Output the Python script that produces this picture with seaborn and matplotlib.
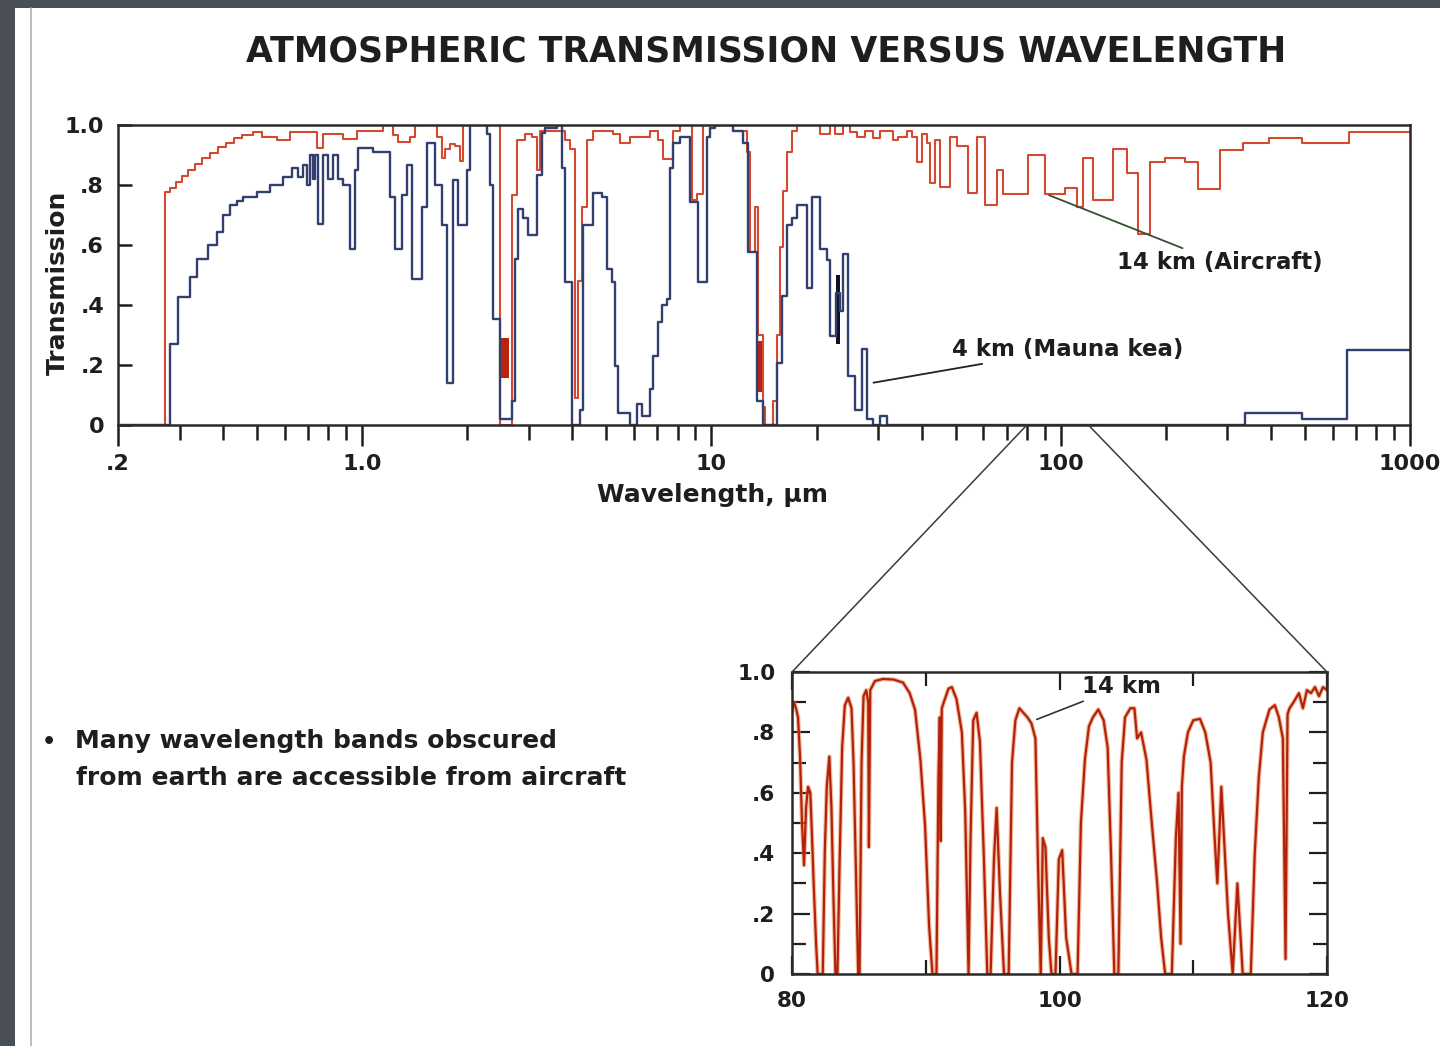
import numpy as np
import pandas as pd
import matplotlib
matplotlib.use("Agg")
import matplotlib.pyplot as plt
import seaborn as sns
from matplotlib.patches import Rectangle, ConnectionPatch
from matplotlib.lines import Line2D
from matplotlib.ticker import FixedLocator, FixedFormatter, NullFormatter

# ------------------------------------------------------------------ data
# 4 km (Mauna Kea): step starts (µm) and transmission of each step
wl_4km_start = [
    0.200, 0.282, 0.298, 0.322, 0.336, 0.363, 0.383, 0.400, 0.419, 0.438,
    0.457, 0.499, 0.545, 0.595, 0.629, 0.657, 0.679, 0.694, 0.709, 0.725,
    0.733, 0.749, 0.774, 0.800, 0.827, 0.855, 0.884, 0.923, 0.954, 0.975,
    1.077, 1.202, 1.242, 1.298, 1.342, 1.387, 1.481, 1.531, 1.617, 1.690,
    1.747, 1.824, 1.886, 1.993, 2.037, 2.274, 2.324, 2.375, 2.482, 2.681,
    2.740, 2.801, 2.894, 2.991, 3.161, 3.267, 3.339, 3.607, 3.728, 3.810,
    3.982, 4.206, 4.290, 4.583, 4.862, 5.025, 5.194, 5.297, 5.403, 5.848,
    6.124, 6.329, 6.672, 6.805, 7.033, 7.222, 7.464, 7.613, 7.765, 8.131,
    8.685, 9.155, 9.714, 9.910, 10.24, 11.53, 12.32, 12.73, 13.51, 14.05,
    15.41, 15.93, 16.46, 17.01, 17.58, 18.78, 19.41, 20.46, 21.42, 21.85,
    22.73, 23.34, 23.81, 24.60, 25.77, 26.98, 27.89, 29.01, 30.39, 31.82,
    337.1, 490.9, 660.3,
]
trans_4km = [
    0.0, 0.27, 0.426, 0.493, 0.554, 0.599, 0.643, 0.70, 0.732, 0.745,
    0.76, 0.777, 0.799, 0.827, 0.855, 0.827, 0.866, 0.80, 0.90, 0.82,
    0.90, 0.671, 0.90, 0.82, 0.90, 0.82, 0.80, 0.588, 0.85, 0.922,
    0.91, 0.76, 0.588, 0.766, 0.866, 0.487, 0.727, 0.939, 0.80, 0.666,
    0.141, 0.816, 0.666, 0.85, 1.0, 0.97, 0.80, 0.353, 0.02, 0.08,
    0.554, 0.721, 0.69, 0.632, 0.833, 0.972, 0.99, 1.0, 0.855, 0.476,
    0.0, 0.05, 0.666, 0.772, 0.76, 0.52, 0.476, 0.197, 0.04, 0.0,
    0.07, 0.03, 0.12, 0.23, 0.342, 0.40, 0.42, 0.855, 0.94, 0.96,
    0.743, 0.476, 0.96, 0.99, 1.0, 0.98, 0.94, 0.576, 0.08, 0.0,
    0.208, 0.43, 0.666, 0.69, 0.732, 0.455, 0.76, 0.588, 0.55, 0.298,
    0.44, 0.38, 0.571, 0.164, 0.05, 0.253, 0.02, 0.0, 0.03, 0.0,
    0.04, 0.02, 0.25,
]

# 14 km (Aircraft)
wl_14km_start = [
    0.200, 0.273, 0.282, 0.293, 0.305, 0.317, 0.332, 0.348, 0.367, 0.387,
    0.408, 0.430, 0.453, 0.487, 0.517, 0.571, 0.622, 0.743, 0.773, 0.882,
    0.967, 1.148, 1.226, 1.267, 1.371, 1.417, 1.638, 1.694, 1.727, 1.785,
    1.845, 1.907, 1.945, 2.482, 2.687, 2.777, 2.927, 3.065, 3.168, 3.231,
    3.810, 3.938, 4.070, 4.151, 4.262, 4.404, 4.583, 5.228, 5.474, 5.848,
    6.672, 7.033, 7.270, 7.765, 8.131, 8.802, 9.097, 9.463, 11.53, 12.65,
    12.90, 13.33, 13.60, 14.05, 14.24, 15.01, 15.41, 15.73, 16.03, 16.46,
    17.01, 17.58, 20.46, 21.85, 22.59, 23.81, 24.94, 26.12, 27.54, 29.01,
    30.39, 33.11, 34.21, 36.32, 37.54, 38.80, 40.09, 41.43, 42.26, 43.68,
    45.13, 48.22, 50.49, 54.28, 57.62, 60.74, 65.73, 68.39, 80.63, 90.22,
    102.9, 111.4, 115.9, 123.8, 141.2, 154.9, 166.5, 180.3, 198.9, 227.0,
    247.3, 285.9, 332.7, 395.0, 490.9, 669.1,
]
trans_14km = [
    0.0, 0.775, 0.79, 0.81, 0.83, 0.85, 0.87, 0.89, 0.905, 0.925,
    0.94, 0.955, 0.968, 0.978, 0.96, 0.95, 0.975, 0.923, 0.97, 0.954,
    0.98, 1.0, 0.967, 0.944, 0.96, 1.0, 0.96, 0.889, 0.92, 0.935,
    0.93, 0.88, 1.0, 0.0, 0.766, 0.95, 0.97, 0.96, 0.85, 0.98,
    0.95, 0.92, 0.09, 0.48, 0.727, 0.95, 0.98, 0.97, 0.94, 0.96,
    0.98, 0.95, 0.888, 0.98, 1.0, 0.75, 0.77, 1.0, 0.98, 0.91,
    0.576, 0.727, 0.30, 0.06, 0.0, 0.08, 0.30, 0.593, 0.78, 0.91,
    0.98, 1.0, 0.97, 1.0, 0.97, 1.0, 0.975, 0.96, 0.98, 0.955,
    0.98, 0.95, 0.96, 0.98, 0.96, 0.877, 0.97, 0.94, 0.805, 0.95,
    0.794, 0.96, 0.93, 0.772, 0.96, 0.732, 0.85, 0.77, 0.90, 0.77,
    0.79, 0.725, 0.89, 0.75, 0.92, 0.84, 0.638, 0.877, 0.89, 0.877,
    0.785, 0.916, 0.94, 0.955, 0.94, 0.977,
]
wl_end = 1000.0

# densely inked (unresolved) bands: wavelength span and transmission span
dense_14km_wl = [(2.48, 2.63), (13.60, 14.00)]
dense_14km_T = [(0.155, 0.29), (0.11, 0.28)]
dense_4km_wl = [(22.73, 23.30)]
dense_4km_T = [(0.27, 0.50)]

# high-resolution 14 km spectrum, 80-120 µm
zoom_wl = [
    80.0, 80.15, 80.3, 80.45, 80.6, 80.75, 80.9, 81.05, 81.2, 81.37,
    81.5, 81.62, 81.8, 81.92, 82.3, 82.45, 82.6, 82.79, 82.95, 83.1,
    83.25, 83.4, 83.55, 83.75, 83.95, 84.2, 84.45, 84.6, 84.75, 84.95,
    85.05, 85.2, 85.35, 85.55, 85.7, 85.75, 85.85, 86.2, 86.8, 87.6,
    88.3, 88.8, 89.2, 89.6, 89.95, 90.25, 90.5, 90.8, 90.95, 91.05,
    91.12, 91.2, 91.35, 91.7, 91.95, 92.3, 92.7, 92.95, 93.2, 93.35,
    93.55, 93.8, 94.05, 94.35, 94.6, 94.85, 95.1, 95.3, 95.55, 95.85,
    96.2, 96.45, 96.7, 97.0, 97.3, 97.6, 97.9, 98.2, 98.4, 98.6,
    98.75, 98.95, 99.2, 99.4, 99.7, 99.95, 100.2, 100.5, 100.9, 101.35,
    101.6, 101.9, 102.2, 102.5, 102.9, 103.3, 103.6, 103.85, 104.1, 104.4,
    104.65, 104.9, 105.3, 105.6, 105.8, 106.1, 106.5, 106.9, 107.3, 107.6,
    107.9, 108.4, 108.7, 108.9, 109.05, 109.15, 109.3, 109.6, 110.0, 110.5,
    110.9, 111.3, 111.6, 111.8, 112.1, 112.3, 112.6, 112.95, 113.3, 113.7,
    114.3, 114.6, 114.9, 115.2, 115.7, 116.1, 116.4, 116.7, 116.9, 117.05,
    117.2, 117.5, 117.9, 118.2, 118.5, 118.8, 119.1, 119.4, 119.7, 120.0,
]
zoom_T = [
    0.87, 0.90, 0.88, 0.85, 0.72, 0.50, 0.36, 0.55, 0.62, 0.60,
    0.45, 0.30, 0.10, 0.0, 0.0, 0.40, 0.62, 0.72, 0.55, 0.25,
    0.0, 0.0, 0.35, 0.75, 0.89, 0.915, 0.88, 0.70, 0.40, 0.0,
    0.0, 0.70, 0.92, 0.94, 0.90, 0.42, 0.94, 0.97, 0.977, 0.975,
    0.965, 0.93, 0.875, 0.71, 0.49, 0.16, 0.0, 0.0, 0.65, 0.85,
    0.44, 0.88, 0.90, 0.945, 0.95, 0.91, 0.80, 0.54, 0.0, 0.45,
    0.84, 0.865, 0.77, 0.38, 0.0, 0.0, 0.38, 0.55, 0.27, 0.0,
    0.0, 0.70, 0.84, 0.88, 0.865, 0.85, 0.83, 0.78, 0.35, 0.0,
    0.45, 0.42, 0.12, 0.0, 0.0, 0.38, 0.41, 0.12, 0.0, 0.0,
    0.50, 0.71, 0.82, 0.85, 0.876, 0.84, 0.75, 0.40, 0.0, 0.0,
    0.70, 0.85, 0.88, 0.88, 0.78, 0.80, 0.71, 0.50, 0.30, 0.12,
    0.0, 0.0, 0.45, 0.60, 0.10, 0.62, 0.72, 0.80, 0.84, 0.845,
    0.80, 0.70, 0.45, 0.30, 0.62, 0.45, 0.20, 0.0, 0.30, 0.0,
    0.0, 0.40, 0.65, 0.80, 0.876, 0.89, 0.85, 0.78, 0.05, 0.86,
    0.88, 0.90, 0.93, 0.88, 0.94, 0.93, 0.95, 0.92, 0.95, 0.94,
]

x_major = [0.2, 1, 10, 100, 1000]
x_major_labels = ['.2', '1.0', '10', '100', '1000']
y_ticks = [0, 0.2, 0.4, 0.6, 0.8, 1.0]
y_tick_labels = ['0', '.2', '.4', '.6', '.8', '1.0']
zoom_x_ticks = [80, 100, 120]
zoom_x_labels = ['80', '100', '120']
zoom_x_minor = [90, 110]
zoom_y_minor = [0.1, 0.3, 0.5, 0.7, 0.9]

title = 'ATMOSPHERIC TRANSMISSION VERSUS WAVELENGTH'
bullet_lines = ['Many wavelength bands obscured',
                'from earth are accessible from aircraft']

# ------------------------------------------------------------------ style
W, H = 1440, 1046
sns.set_theme(style='white')
plt.rcParams['font.family'] = ['DejaVu Sans']
plt.rcParams['font.weight'] = 'bold'
plt.rcParams['axes.labelweight'] = 'bold'

RED = '#d44a30'
NAVY = '#33406f'
DARKRED = '#b3210c'
INK = '#1e1e1e'


def px_axes(l, t, r, b):
    return [l / W, 1 - b / H, (r - l) / W, (b - t) / H]


def steps(starts, vals):
    return pd.DataFrame({'wl': list(starts) + [wl_end],
                         'T': list(vals) + [vals[-1]]})


fig = plt.figure(figsize=(W / 100, H / 100), dpi=100, facecolor='#4a4e57')
fig.patches.append(Rectangle((15 / W, 0), 1 - 15 / W, 1 - 8 / H,
                             transform=fig.transFigure, facecolor='white',
                             edgecolor='none', zorder=-10))
fig.add_artist(Line2D([31 / W, 31 / W], [0, 1 - 8 / H], color='#aab6aa',
                      lw=1.2, zorder=-5))

# ------------------------------------------------------------------ main axes
ax = fig.add_axes(px_axes(118, 125, 1410, 425))
ax.set_facecolor('white')
ax.set_xscale('log')
ax.set_xlim(0.2, 1000)
ax.set_ylim(0, 1.0)

sns.lineplot(data=steps(wl_14km_start, trans_14km), x='wl', y='T',
             drawstyle='steps-post', estimator=None, sort=False,
             color=RED, lw=1.5, ax=ax)
sns.lineplot(data=steps(wl_4km_start, trans_4km), x='wl', y='T',
             drawstyle='steps-post', estimator=None, sort=False,
             color=NAVY, lw=1.7, ax=ax)
for (a, b), (lo, hi) in zip(dense_14km_wl, dense_14km_T):
    ax.fill_between([a, b], lo, hi, color='#b8230f', lw=0)
for (a, b), (lo, hi) in zip(dense_4km_wl, dense_4km_T):
    ax.fill_between([a, b], lo, hi, color='#111122', lw=0)

ax.xaxis.set_major_locator(FixedLocator(x_major))
ax.xaxis.set_major_formatter(FixedFormatter(x_major_labels))
minors = [k * 10.0 ** e for e in (-1, 0, 1, 2) for k in range(2, 10)
          if 0.2 < k * 10.0 ** e < 1000]
ax.xaxis.set_minor_locator(FixedLocator(minors))
ax.xaxis.set_minor_formatter(NullFormatter())
ax.set_yticks(y_ticks)
ax.set_yticklabels(y_tick_labels)
ax.tick_params(axis='x', which='major', direction='out', length=15, width=1.8,
               pad=6, labelsize=16, colors=INK, bottom=True)
ax.tick_params(axis='x', which='minor', direction='out', length=11, width=1.8,
               colors=INK, bottom=True)
ax.tick_params(axis='y', which='major', direction='in', length=10, width=1.8,
               pad=10, labelsize=16, colors=INK, left=True)
for s in ax.spines.values():
    s.set_color('#2a2a2a')
    s.set_linewidth(1.8)

ax.set_ylabel('Transmission', fontsize=18, fontweight='bold', color=INK)
ax.yaxis.label.set_verticalalignment('center')
ax.yaxis.set_label_coords(-0.0464, 0.473)
ax.set_xlabel('Wavelength, µm', fontsize=18, fontweight='bold', color=INK)
ax.xaxis.label.set_verticalalignment('center')
ax.xaxis.set_label_coords(0.46, -0.235)

ax.annotate('14 km (Aircraft)', xy=(92.6, 0.766), xytext=(144.9, 0.54),
            ha='left', va='center', fontsize=16.5, fontweight='bold', color=INK,
            arrowprops=dict(arrowstyle='-', color='#35502f', lw=1.3,
                            shrinkA=0, shrinkB=0))
ax.annotate('4 km (Mauna kea)', xy=(29.1, 0.141), xytext=(48.8, 0.253),
            ha='left', va='center', fontsize=16.5, fontweight='bold', color=INK,
            arrowprops=dict(arrowstyle='-', color='#222222', lw=1.3,
                            shrinkA=0, shrinkB=0))

fig.text(766 / W, 1 - 52 / H, title, ha='center', va='center',
         fontsize=25, fontweight='bold', color=INK)

# ------------------------------------------------------------------ inset
ax2 = fig.add_axes(px_axes(792, 672, 1327, 974))
ax2.set_facecolor('white')
sns.lineplot(x=zoom_wl, y=zoom_T, estimator=None, sort=False,
             color='#e58a4e', lw=3.2, alpha=0.55, ax=ax2)
sns.lineplot(x=zoom_wl, y=zoom_T, estimator=None, sort=False,
             color=DARKRED, lw=1.6, ax=ax2)
ax2.set_xlim(80, 120)
ax2.set_ylim(0, 1.0)
ax2.set_xlabel('')
ax2.set_ylabel('')
ax2.xaxis.set_major_locator(FixedLocator(zoom_x_ticks))
ax2.xaxis.set_major_formatter(FixedFormatter(zoom_x_labels))
ax2.xaxis.set_minor_locator(FixedLocator(zoom_x_minor))
ax2.set_yticks(y_ticks)
ax2.set_yticklabels(y_tick_labels)
ax2.yaxis.set_minor_locator(FixedLocator(zoom_y_minor))
ax2.tick_params(axis='both', which='both', direction='in', top=True, bottom=True,
                left=True, right=True, width=1.6, colors=INK)
ax2.tick_params(axis='both', which='major', length=13, labelsize=15.5, pad=12)
ax2.tick_params(axis='both', which='minor', length=10)
for s in ax2.spines.values():
    s.set_color('#2a2a2a')
    s.set_linewidth(1.8)

ax2.annotate('14 km', xy=(98.3, 0.843), xytext=(101.66, 0.952),
             ha='left', va='center', fontsize=16.5, fontweight='bold', color=INK,
             arrowprops=dict(arrowstyle='-', color='#333333', lw=1.2,
                             shrinkA=0, shrinkB=0))

for wl in (80, 120):
    con = ConnectionPatch(xyA=(wl, 0), coordsA=ax.transData,
                          xyB=(wl, 1.0), coordsB=ax2.transData,
                          color='#3a3a3a', lw=1.1)
    fig.add_artist(con)

# ------------------------------------------------------------------ bullet
fig.text(49 / W, 1 - 742 / H, '•', ha='center', va='center',
         fontsize=16, fontweight='bold', color=INK)
fig.text(75 / W, 1 - 741 / H, bullet_lines[0], ha='left', va='center',
         fontsize=18, fontweight='bold', color=INK)
fig.text(76 / W, 1 - 778 / H, bullet_lines[1], ha='left', va='center',
         fontsize=18, fontweight='bold', color=INK)

fig.savefig('out.png', dpi=100, facecolor=fig.get_facecolor())
